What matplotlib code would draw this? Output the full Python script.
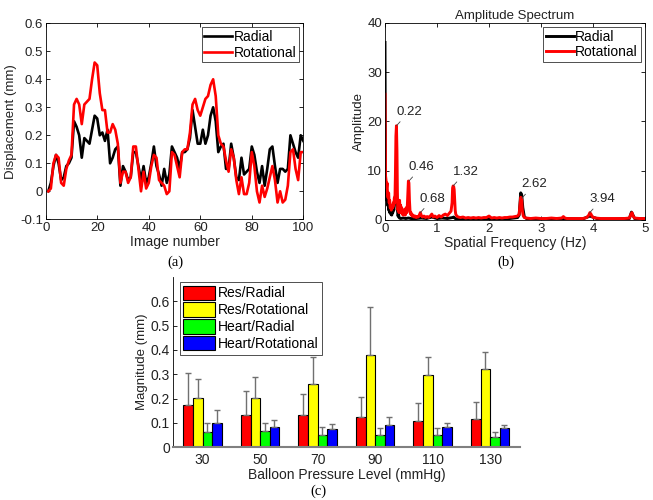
import numpy as np
import matplotlib
matplotlib.use("Agg")
import matplotlib.pyplot as plt

plt.rcParams['font.family'] = ['Liberation Sans', 'DejaVu Sans']

# ---------------- data ----------------
image_number = list(range(1, 101))
radial_disp = [0.00, 0.03, 0.09, 0.13, 0.10, 0.04, 0.05, 0.09, 0.10, 0.12,
               0.25, 0.23, 0.20, 0.12, 0.19, 0.18, 0.17, 0.22, 0.27, 0.26,
               0.20, 0.21, 0.18, 0.22, 0.10, 0.12, 0.15, 0.16, 0.02, 0.09,
               0.07, 0.04, 0.05, 0.14, 0.14, 0.09, 0.04, 0.09, 0.03, 0.05,
               0.10, 0.16, 0.09, 0.06, 0.02, 0.08, 0.03, 0.06, 0.16, 0.14,
               0.12, 0.08, 0.14, 0.14, 0.15, 0.19, 0.29, 0.23, 0.17, 0.17,
               0.22, 0.17, 0.20, 0.27, 0.30, 0.25, 0.14, 0.16, 0.17, 0.08,
               0.08, 0.17, 0.12, 0.05, 0.04, 0.12, 0.06, 0.07, 0.08, 0.16,
               0.13, 0.07, 0.03, 0.09, 0.02, 0.08, 0.15, 0.16, 0.09, 0.03,
               0.08, 0.08, 0.07, 0.08, 0.20, 0.17, 0.14, 0.12, 0.20, 0.18]
rotational_disp = [0.00, 0.01, 0.10, 0.13, 0.12, 0.03, 0.02, 0.08, 0.11, 0.13,
                   0.31, 0.33, 0.31, 0.24, 0.31, 0.32, 0.33, 0.40, 0.46, 0.45,
                   0.35, 0.29, 0.29, 0.21, 0.21, 0.24, 0.22, 0.17, 0.03, 0.07,
                   0.07, 0.03, 0.05, 0.16, 0.16, 0.08, 0.00, 0.07, 0.01, 0.03,
                   0.09, 0.13, 0.12, 0.04, 0.03, 0.02, -0.01, 0.00, 0.14, 0.13,
                   0.09, 0.05, 0.14, 0.15, 0.15, 0.21, 0.31, 0.33, 0.29, 0.27,
                   0.30, 0.33, 0.34, 0.38, 0.40, 0.34, 0.20, 0.17, 0.16, 0.11,
                   0.07, 0.15, 0.12, 0.04, -0.01, 0.05, -0.01, -0.01, 0.03, 0.14,
                   0.09, 0.00, -0.04, 0.02, -0.02, 0.01, 0.05, 0.09, 0.04, -0.04,
                   0.00, -0.04, -0.03, 0.02, 0.14, 0.15, 0.08, 0.04, 0.14, 0.14]

freq_rad = [0.00, 0.005, 0.01, 0.02, 0.03, 0.04, 0.05, 0.06, 0.07, 0.08,
            0.09, 0.10, 0.11, 0.12, 0.13, 0.14, 0.15, 0.16, 0.17, 0.18,
            0.19, 0.20, 0.21, 0.22, 0.23, 0.24, 0.25, 0.26, 0.27, 0.28,
            0.30, 0.35, 0.40, 0.45, 0.50, 0.60, 0.70, 0.80, 0.90, 1.00,
            1.10, 1.20, 1.30, 1.32, 1.35, 1.40, 1.60, 1.80, 2.00, 2.20,
            2.40, 2.55, 2.58, 2.60, 2.61, 2.62, 2.63, 2.65, 2.68, 2.72,
            2.80, 3.00, 3.40, 3.80, 3.94, 4.10, 4.40, 4.70, 4.72, 4.74,
            4.76, 4.80, 5.00]
amp_rad = [36.0, 20.0, 6.0, 5.5, 4.0, 5.0, 3.0, 3.5, 2.0, 2.5,
           1.5, 2.0, 1.2, 1.5, 1.0, 1.8, 1.5, 2.5, 2.0, 3.5,
           4.0, 5.0, 5.8, 6.0, 4.5, 2.0, 0.8, 1.2, 0.5, 0.4,
           0.3, 0.4, 0.3, 0.4, 0.3, 0.3, 0.4, 0.3, 0.6, 0.3,
           0.4, 0.3, 0.5, 0.6, 0.3, 0.2, 0.2, 0.2, 0.3, 0.2,
           0.3, 0.5, 1.0, 4.0, 5.5, 5.3, 5.0, 2.5, 0.6, 0.3,
           0.2, 0.2, 0.3, 0.2, 0.8, 0.2, 0.2, 0.3, 1.0, 1.6,
           1.2, 0.3, 0.2]

freq_rot = [0.00, 0.01, 0.02, 0.03, 0.04, 0.05, 0.06, 0.07, 0.08, 0.09,
            0.10, 0.11, 0.12, 0.13, 0.14, 0.15, 0.16, 0.17, 0.18, 0.19,
            0.20, 0.21, 0.22, 0.23, 0.24, 0.25, 0.26, 0.27, 0.28, 0.29,
            0.30, 0.31, 0.32, 0.33, 0.34, 0.35, 0.36, 0.37, 0.38, 0.39,
            0.40, 0.41, 0.42, 0.43, 0.44, 0.45, 0.46, 0.47, 0.48, 0.49,
            0.50, 0.52, 0.54, 0.56, 0.58, 0.60, 0.62, 0.64, 0.66, 0.68,
            0.70, 0.72, 0.75, 0.78, 0.81, 0.84, 0.87, 0.90, 0.93, 0.96,
            1.00, 1.04, 1.08, 1.12, 1.16, 1.20, 1.24, 1.27, 1.29, 1.30,
            1.31, 1.32, 1.33, 1.34, 1.35, 1.36, 1.38, 1.41, 1.45, 1.50,
            1.55, 1.60, 1.65, 1.70, 1.75, 1.80, 1.85, 1.90, 1.95, 2.00,
            2.05, 2.10, 2.15, 2.20, 2.25, 2.30, 2.35, 2.40, 2.45, 2.50,
            2.55, 2.58, 2.60, 2.61, 2.62, 2.63, 2.64, 2.66, 2.68, 2.72,
            2.80, 2.90, 3.00, 3.10, 3.20, 3.30, 3.40, 3.43, 3.46, 3.50,
            3.60, 3.70, 3.80, 3.88, 3.92, 3.94, 3.96, 3.99, 4.05, 4.15,
            4.30, 4.45, 4.60, 4.70, 4.73, 4.75, 4.77, 4.80, 4.90, 5.00]
amp_rot = [25.5, 9.0, 8.0, 6.5, 7.5, 5.0, 4.5, 5.5, 3.5, 4.0,
           2.5, 3.0, 2.0, 2.2, 3.0, 2.5, 3.5, 3.0, 4.5, 3.5,
           9.0, 17.0, 19.1, 14.0, 4.0, 2.0, 3.5, 1.5, 4.0, 2.0,
           3.0, 1.5, 2.5, 1.2, 2.0, 1.0, 1.8, 1.2, 2.2, 1.0,
           1.5, 2.5, 1.5, 3.0, 5.5, 7.9, 7.5, 4.0, 2.0, 1.2,
           1.5, 0.8, 1.0, 0.6, 0.8, 0.5, 0.7, 0.6, 1.0, 1.5,
           0.9, 0.6, 0.8, 0.5, 0.7, 0.5, 0.8, 1.2, 0.6, 0.8,
           0.5, 0.9, 0.6, 1.0, 1.2, 0.9, 1.4, 1.8, 3.5, 6.5,
           6.9, 6.8, 6.2, 4.0, 2.0, 1.2, 0.8, 0.6, 0.5, 0.6,
           0.4, 0.5, 0.4, 0.5, 0.4, 0.5, 0.4, 0.5, 0.5, 0.8,
           0.4, 0.5, 0.4, 0.5, 0.4, 0.5, 0.5, 0.6, 0.6, 0.7,
           0.8, 1.2, 3.5, 4.6, 4.5, 4.0, 2.0, 0.8, 0.5, 0.4,
           0.3, 0.4, 0.3, 0.3, 0.4, 0.3, 0.4, 0.7, 0.4, 0.3,
           0.3, 0.3, 0.3, 0.5, 1.0, 1.5, 1.2, 0.6, 0.4, 0.3,
           0.3, 0.3, 0.3, 0.4, 1.2, 1.5, 0.8, 0.4, 0.3, 0.3]

peak_labels = ['0.22', '0.46', '0.68', '1.32', '2.62', '3.94']
peak_freq = [0.22, 0.46, 0.68, 1.31, 2.63, 3.93]
peak_amp = [19.1, 7.9, 1.5, 6.9, 4.4, 1.4]

pressure_levels = ['30', '50', '70', '90', '110', '130']
bar_series = ['Res/Radial', 'Res/Rotational', 'Heart/Radial', 'Heart/Rotational']
res_radial = [0.174, 0.131, 0.134, 0.123, 0.107, 0.115]
res_radial_err = [0.133, 0.102, 0.086, 0.085, 0.074, 0.073]
res_rotational = [0.204, 0.204, 0.259, 0.379, 0.297, 0.322]
res_rotational_err = [0.075, 0.086, 0.114, 0.199, 0.074, 0.070]
heart_radial = [0.062, 0.067, 0.052, 0.052, 0.052, 0.044]
heart_radial_err = [0.038, 0.033, 0.033, 0.029, 0.026, 0.020]
heart_rotational = [0.100, 0.082, 0.074, 0.090, 0.082, 0.080]
heart_rotational_err = [0.053, 0.032, 0.023, 0.033, 0.018, 0.012]

# ---------------- figure ----------------
W, H = 653, 500
fig = plt.figure(figsize=(W / 100, H / 100), dpi=100)
FS = 9.5
TXT = '#222222'


def ax_rect(l, t, r, b):
    return [l / W, 1 - b / H, (r - l) / W, (b - t) / H]


def style_box(ax):
    ax.tick_params(direction='in', top=True, right=True, length=3,
                   labelsize=FS, width=0.6, pad=2, labelcolor=TXT)
    for s in ax.spines.values():
        s.set_linewidth(0.6)


# (a)
axa = fig.add_axes(ax_rect(45.7, 23.3, 303.3, 219.3))
axa.plot(image_number, radial_disp, color='black', lw=1.9, label='Radial')
axa.plot(image_number, rotational_disp, color='#ff0000', lw=1.9, label='Rotational')
axa.set_xlim(0, 100)
axa.set_ylim(-0.1, 0.6)
axa.set_xticks([0, 20, 40, 60, 80, 100])
axa.set_yticks([-0.1, 0, 0.1, 0.2, 0.3, 0.4, 0.5, 0.6])
axa.set_yticklabels(['-0.1', '0', '0.1', '0.2', '0.3', '0.4', '0.5', '0.6'])
style_box(axa)
axa.set_xlabel('Image number', fontsize=FS + 0.5, labelpad=1, color=TXT)
axa.set_ylabel('Displacement (mm)', fontsize=FS, labelpad=2, color=TXT)
leg = axa.legend(loc='upper right', fontsize=FS + 0.5, frameon=True, fancybox=False,
                 handlelength=2.0, handletextpad=0.1, borderpad=0.2,
                 labelspacing=0.1, borderaxespad=0.3)
leg.get_frame().set_edgecolor('black')
leg.get_frame().set_linewidth(0.6)
fig.text(175 / W, 1 - 262 / H, '(a)', ha='center', va='center',
         fontsize=10.5, family='Liberation Serif')

# (b)
axb = fig.add_axes(ax_rect(385, 22.7, 645, 220))
axb.plot(freq_rad, amp_rad, color='black', lw=2.1, label='Radial')
axb.plot(freq_rot, amp_rot, color='#ff0000', lw=2.1, label='Rotational')
axb.set_xlim(0, 5)
axb.set_ylim(0, 40)
axb.set_xticks([0, 1, 2, 3, 4, 5])
axb.set_yticks([0, 10, 20, 30, 40])
style_box(axb)
axb.set_xlabel('Spatial Frequency (Hz)', fontsize=FS + 0.5, labelpad=1, color=TXT)
axb.set_ylabel('Amplitude', fontsize=FS, labelpad=2, color=TXT)
axb.set_title('Amplitude Spectrum', fontsize=FS, pad=3, color=TXT)
for lab, fx, fy in zip(peak_labels, peak_freq, peak_amp):
    axb.annotate(lab, xy=(fx, fy), xytext=(9, 10), textcoords='offset points',
                 ha='center', va='center', fontsize=FS, color=TXT,
                 arrowprops=dict(arrowstyle='-', color='#404040', lw=0.6,
                                 shrinkA=1, shrinkB=0))
leg = axb.legend(loc='upper right', fontsize=FS + 0.5, frameon=True, fancybox=False,
                 handlelength=2.0, handletextpad=0.1, borderpad=0.2,
                 labelspacing=0.1, borderaxespad=0.3)
leg.get_frame().set_edgecolor('black')
leg.get_frame().set_linewidth(0.6)
fig.text(506 / W, 1 - 262 / H, '(b)', ha='center', va='center',
         fontsize=10.5, family='Liberation Serif')

# (c)
axc = fig.add_axes(ax_rect(172.7, 277, 520, 447.3))
x = np.arange(1, len(pressure_levels) + 1)
bw = 1 / 6
vals = [res_radial, res_rotational, heart_radial, heart_rotational]
errs = [res_radial_err, res_rotational_err, heart_radial_err, heart_rotational_err]
colors = ['#ff0000', '#ffff00', '#00ff00', '#0000ff']
for i, (v, e, c, name) in enumerate(zip(vals, errs, colors, bar_series)):
    pos = x + (i - 1.5) * bw
    axc.bar(pos, v, width=bw, color=c, edgecolor='black', linewidth=0.8, label=name,
            zorder=2)
    axc.errorbar(pos, v, yerr=[np.zeros(len(v)), e], fmt='none', ecolor='#707070',
                 elinewidth=1.0, capsize=2.5, capthick=1.0, zorder=3)
axc.set_xlim(0.48, 6.52)
axc.set_ylim(0, 0.7)
axc.set_xticks(x)
axc.set_xticklabels(pressure_levels)
axc.set_yticks([0, 0.1, 0.2, 0.3, 0.4, 0.5, 0.6])
axc.set_yticklabels(['0', '0.1', '0.2', '0.3', '0.4', '0.5', '0.6'])
axc.spines['top'].set_visible(False)
axc.spines['right'].set_visible(False)
axc.spines['left'].set_linewidth(0.6)
axc.spines['bottom'].set_color('#808080')
axc.spines['bottom'].set_linewidth(1.5)
axc.tick_params(direction='in', length=3, labelsize=FS + 0.5, width=0.6, pad=2,
                labelcolor=TXT)
axc.tick_params(axis='x', length=0, pad=4)
axc.set_xlabel('Balloon Pressure Level (mmHg)', fontsize=FS + 0.5, labelpad=1, color=TXT)
axc.set_ylabel('Magnitude (mm)', fontsize=FS, labelpad=2, color=TXT)
leg = axc.legend(loc='upper left', fontsize=FS + 0.5, frameon=True, fancybox=False,
                 handlelength=2.3, handleheight=1.2, handletextpad=0.2, borderpad=0.25,
                 labelspacing=0.15, borderaxespad=0.0, bbox_to_anchor=(0.02, 0.97))
leg.get_frame().set_edgecolor('black')
leg.get_frame().set_linewidth(0.6)
fig.text(318 / W, 1 - 491 / H, '(c)', ha='center', va='center',
         fontsize=10.5, family='Liberation Serif')

fig.savefig('out.png', dpi=100)
